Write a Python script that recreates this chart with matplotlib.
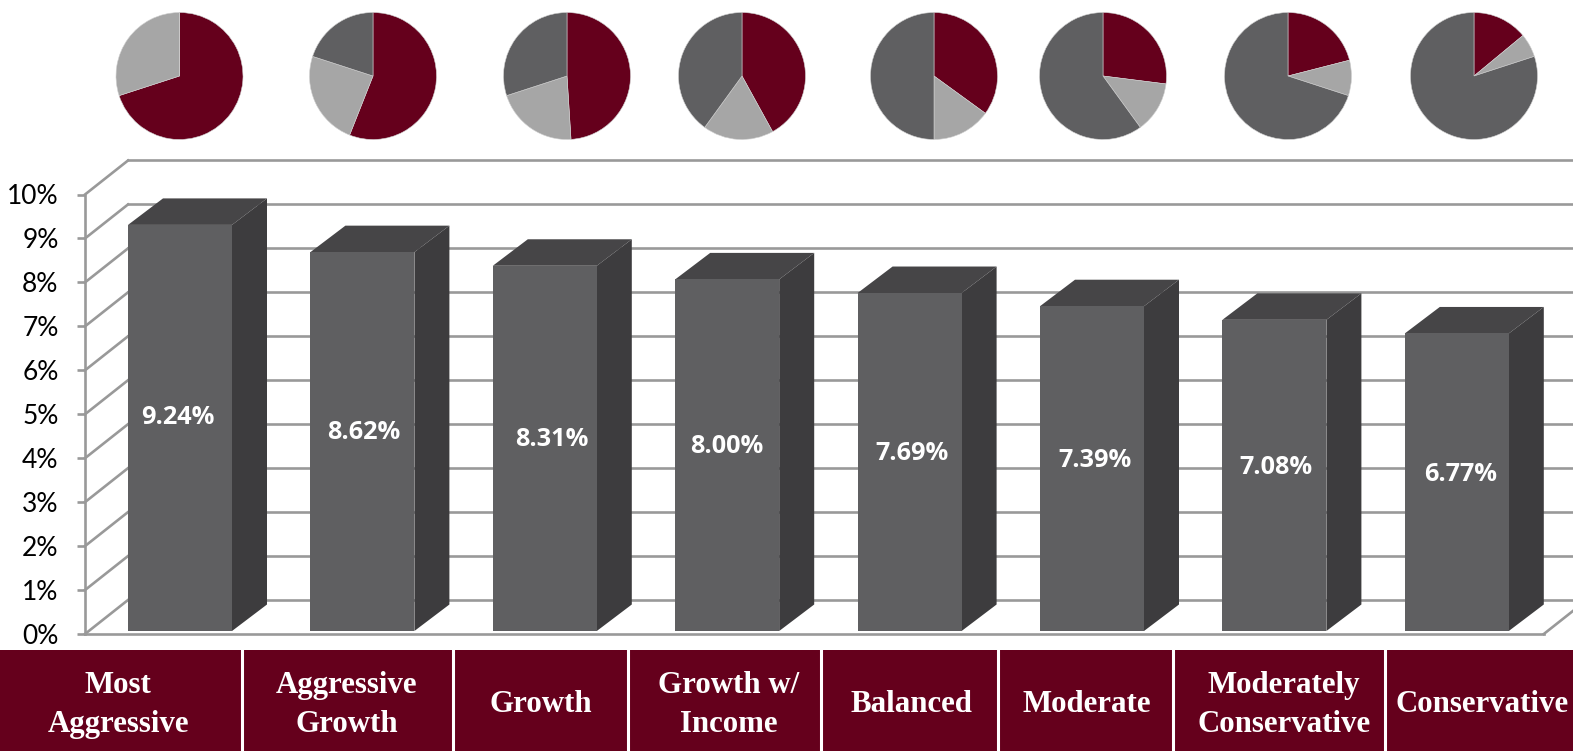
import numpy as np
import matplotlib
matplotlib.use('Agg')
import matplotlib.pyplot as plt

W, H = 1573, 751

categories = ['Most\nAggressive', 'Aggressive\nGrowth', 'Growth', 'Growth w/\nIncome', 'Balanced',
              'Moderate', 'Moderately\nConservative', 'Conservative']
returns = [9.24, 8.62, 8.31, 8.00, 7.69, 7.39, 7.08, 6.77]
y_ticks = [0, 1, 2, 3, 4, 5, 6, 7, 8, 9, 10]
y_tick_labels = ['0%', '1%', '2%', '3%', '4%', '5%', '6%', '7%', '8%', '9%', '10%']

# share of each portfolio, clockwise from the top
maroon_share = [70, 56, 49, 42, 35, 27, 21, 14]
light_share = [30, 24, 21, 18, 15, 13, 9, 6]
dark_share = [0, 20, 30, 40, 50, 60, 70, 80]

MAROON = '#65001c'
LIGHT = '#a6a6a6'
DARK = '#5f5f61'
BAR_TOP = '#464547'
BAR_SIDE = '#3d3c3e'
GRID = '#999999'
LINE_W = 1.9


def px_axes(left, top, right, bottom):
    return fig.add_axes([left / W, 1 - bottom / H, (right - left) / W, (bottom - top) / H])


fig = plt.figure(figsize=(W / 100, H / 100), dpi=100)

# main chart: x unit is one category (182 px), y unit is one percent (44 px)
axis_px = 85
first_px = 180
step_px = 182.4
y0_px, y10_px = 634, 194.5
ax = px_axes(axis_px, y10_px, W, y0_px)
ax.set_xlim((axis_px - first_px) / step_px, (W - first_px) / step_px)
ax.set_ylim(0, 10)
ax.patch.set_alpha(0)

px_y = (y0_px - y10_px) / 10
xs = np.arange(len(returns))
bar_w = 104 / step_px
lift = 3 / px_y
bar_dx, bar_dy = 35 / step_px, 26.5 / px_y
wall_dx, wall_dy = 43 / step_px, 34 / px_y
x_left = ax.get_xlim()[0]
x_right = ax.get_xlim()[1]

# back wall
for t in y_ticks:
    ax.plot([x_left, x_left + wall_dx], [t, t + wall_dy], color=GRID, lw=LINE_W, zorder=1, clip_on=False)
    ax.plot([x_left + wall_dx, x_right], [t + wall_dy, t + wall_dy], color=GRID, lw=LINE_W, zorder=1, clip_on=False)
floor_end = xs[-1] + bar_w / 2 + bar_dx
ax.plot([floor_end, floor_end + wall_dx], [0, wall_dy], color=GRID, lw=LINE_W, zorder=1, clip_on=False)

ax.bar(xs, returns, width=bar_w, bottom=lift, color=DARK, zorder=4)
# the value labels are not quite centred on their bars
label_shift_px = [-2, 1, 7, 0, 2, 3, 2, 4]
for x, v, shift in zip(xs, returns, label_shift_px):
    top = v + lift
    l, r = x - bar_w / 2, x + bar_w / 2
    ax.fill([l, r, r + bar_dx, l + bar_dx], [top, top, top + bar_dy, top + bar_dy],
            color=BAR_TOP, lw=0, zorder=3, clip_on=False)
    ax.fill([r, r + bar_dx, r + bar_dx, r], [lift, lift + bar_dy, top + bar_dy, top],
            color=BAR_SIDE, lw=0, zorder=3, clip_on=False)
    ax.text(x + shift / step_px, v * 0.525 + lift + 0.0, '%.2f%%' % v, color='white', ha='center', va='center',
            fontsize=18.2, fontweight='bold', family='Open Sans', zorder=5)

ax.set_xticks([])
ax.set_yticks(y_ticks)
ax.set_yticklabels(y_tick_labels, fontsize=19, family='Lato', color='black')
ax.tick_params(axis='y', length=6, width=LINE_W, color=GRID, pad=13)
for s in ['top', 'right']:
    ax.spines[s].set_visible(False)
ax.spines['left'].set_color(GRID)
ax.spines['left'].set_linewidth(LINE_W)
ax.spines['bottom'].set_color(GRID)
ax.spines['bottom'].set_linewidth(LINE_W)
ax.spines['bottom'].set_bounds(x_left, floor_end)

# pies above the bars
pie_centers = [179.5, 373, 567, 742, 934, 1103, 1288, 1474]
pie_r = 63.5
for i, cx in enumerate(pie_centers):
    pax = px_axes(cx - pie_r - 2, 76 - pie_r - 2, cx + pie_r + 2, 76 + pie_r + 2)
    pax.pie([maroon_share[i], light_share[i], dark_share[i]], colors=[MAROON, LIGHT, DARK],
            startangle=90, counterclock=False, radius=1,
            wedgeprops={'linewidth': 0.4, 'edgecolor': '#d0d0d0'})
    pax.set_xlim(-1 - 2 / pie_r, 1 + 2 / pie_r)
    pax.set_ylim(-1 - 2 / pie_r, 1 + 2 / pie_r)

# category strip
strip = px_axes(0, 650, W, H)
strip.set_xlim(0, W)
strip.set_ylim(H, 650)
strip.set_facecolor(MAROON)
strip.set_xticks([])
strip.set_yticks([])
for s in strip.spines.values():
    s.set_visible(False)
for d in [241.5, 452.5, 628, 821, 998, 1173, 1385]:
    strip.axvline(d, color='white', lw=2.2)
label_centers = [118, 347, 541, 729, 911, 1087, 1284, 1482]
for cx, name in zip(label_centers, categories):
    strip.text(cx, 705, name, color='white', ha='center', va='center', fontsize=22.2,
               fontweight='bold', family='Liberation Serif', linespacing=1.45)

fig.savefig('out.png', dpi=100)
